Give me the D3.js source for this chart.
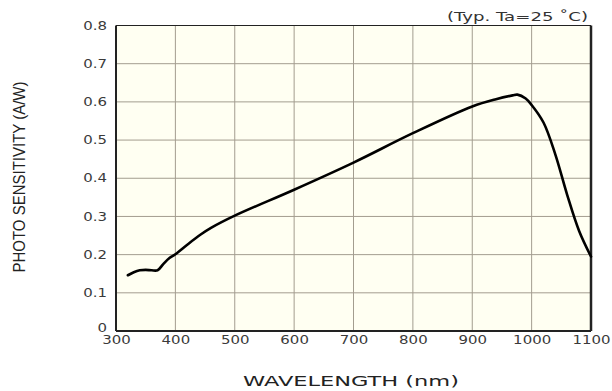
<!DOCTYPE html>
<html lang="en">
<head>
<meta charset="UTF-8">
<title>Photo Sensitivity</title>
<script src="https://d3js.org/d3.v7.min.js"></script>
<style>
  body { margin: 0; background: #fff; }
  .tick text { font-family: "DejaVu Sans", Verdana, sans-serif; font-size: 11.5px; fill: #3a3a3a; }
</style>
</head>
<body>
<div id="chart"></div>
<script>
// curve
const wavelength = [320, 330, 340, 350, 360, 370, 380, 390, 400, 420, 442, 460, 500, 600, 700, 800, 900, 940, 968, 976, 990, 1000, 1020, 1040, 1060, 1080, 1100];
const sensitivity = [0.146, 0.154, 0.159, 0.160, 0.159, 0.159, 0.176, 0.191, 0.201, 0.226, 0.252, 0.270, 0.302, 0.370, 0.441, 0.518, 0.588, 0.607, 0.617, 0.619, 0.609, 0.592, 0.546, 0.462, 0.356, 0.262, 0.195];
const xTicks = [300, 400, 500, 600, 700, 800, 900, 1000, 1100];
const yTicks = [0, 0.1, 0.2, 0.3, 0.4, 0.5, 0.6, 0.7, 0.8];

const W = 612, H = 391;
const margin = { top: 25.5, right: 21, bottom: 60, left: 116 };
const width = W - margin.left - margin.right;
const height = H - margin.top - margin.bottom;

const svg = d3.select("#chart").append("svg")
  .attr("width", W).attr("height", H);
const g = svg.append("g").attr("transform", `translate(${margin.left},${margin.top})`);

const x = d3.scaleLinear().domain([300, 1100]).range([0, width]);
const y = d3.scaleLinear().domain([0, 0.8]).range([height, 0]);

// background
g.append("rect").attr("width", width).attr("height", height).attr("fill", "#fffff2");

// grid
g.selectAll(".vgrid").data(xTicks.slice(1, -1)).enter().append("line")
  .attr("x1", d => x(d)).attr("x2", d => x(d))
  .attr("y1", 0).attr("y2", height)
  .attr("stroke", "#a39d8f").attr("stroke-width", 1);
g.selectAll(".hgrid").data(yTicks.slice(1, -1)).enter().append("line")
  .attr("y1", d => y(d)).attr("y2", d => y(d))
  .attr("x1", 0).attr("x2", width)
  .attr("stroke", "#a39d8f").attr("stroke-width", 1);

// axes
const xAxis = g.append("g").attr("transform", `translate(0,${height})`)
  .call(d3.axisBottom(x).tickValues(xTicks).tickSize(0).tickPadding(5).tickFormat(d3.format("d")));
xAxis.select(".domain").remove();
xAxis.selectAll(".tick text").attr("transform", "scale(1.3,1)");
const yAxis = g.append("g")
  .call(d3.axisLeft(y).tickValues(yTicks).tickSize(0).tickPadding(7).tickFormat(d => d === 0 ? "0" : d3.format(".1f")(d)));
yAxis.select(".domain").remove();
yAxis.selectAll(".tick text").attr("transform", "scale(1.3,1)");
yAxis.selectAll(".tick").filter(d => d === 0).select("text").attr("dy", "0.05em");

// frame
g.append("line").attr("x1", 0).attr("x2", width).attr("y1", 0).attr("y2", 0).attr("stroke", "#222").attr("stroke-width", 1.2);
g.append("line").attr("x1", 0).attr("x2", width).attr("y1", height).attr("y2", height).attr("stroke", "#222").attr("stroke-width", 2);
g.append("line").attr("x1", 0).attr("x2", 0).attr("y1", 0).attr("y2", height).attr("stroke", "#222").attr("stroke-width", 2);
g.append("line").attr("x1", width).attr("x2", width).attr("y1", 0).attr("y2", height).attr("stroke", "#222").attr("stroke-width", 2.5);

// curve
const data = wavelength.map((w, i) => ({ w, s: sensitivity[i] }));
g.append("path").datum(data)
  .attr("fill", "none").attr("stroke", "#000").attr("stroke-width", 2.6)
  .attr("stroke-linecap", "round")
  .attr("d", d3.line().x(d => x(d.w)).y(d => y(d.s)).curve(d3.curveCatmullRom));

// labels
svg.append("text").attr("x", 588).attr("y", 21).attr("text-anchor", "end")
  .style("font-family", "DejaVu Sans, Verdana, sans-serif").style("font-size", "12.5px").attr("fill", "#333")
  .attr("textLength", 141).attr("lengthAdjust", "spacingAndGlyphs")
  .text("(Typ. Ta=25 ˚C)");
svg.append("text").attr("x", 351).attr("y", 386).attr("text-anchor", "middle")
  .style("font-family", "DejaVu Sans, Verdana, sans-serif").style("font-size", "13.5px").attr("fill", "#222")
  .attr("textLength", 216).attr("lengthAdjust", "spacingAndGlyphs")
  .text("WAVELENGTH (nm)");
svg.append("text").attr("transform", "translate(25,177) rotate(-90)").attr("text-anchor", "middle")
  .style("font-family", "Liberation Sans, Arial, sans-serif").style("font-size", "17px").attr("fill", "#222")
  .attr("textLength", 191).attr("lengthAdjust", "spacingAndGlyphs")
  .text("PHOTO SENSITIVITY (A/W)");
</script>
</body>
</html>
